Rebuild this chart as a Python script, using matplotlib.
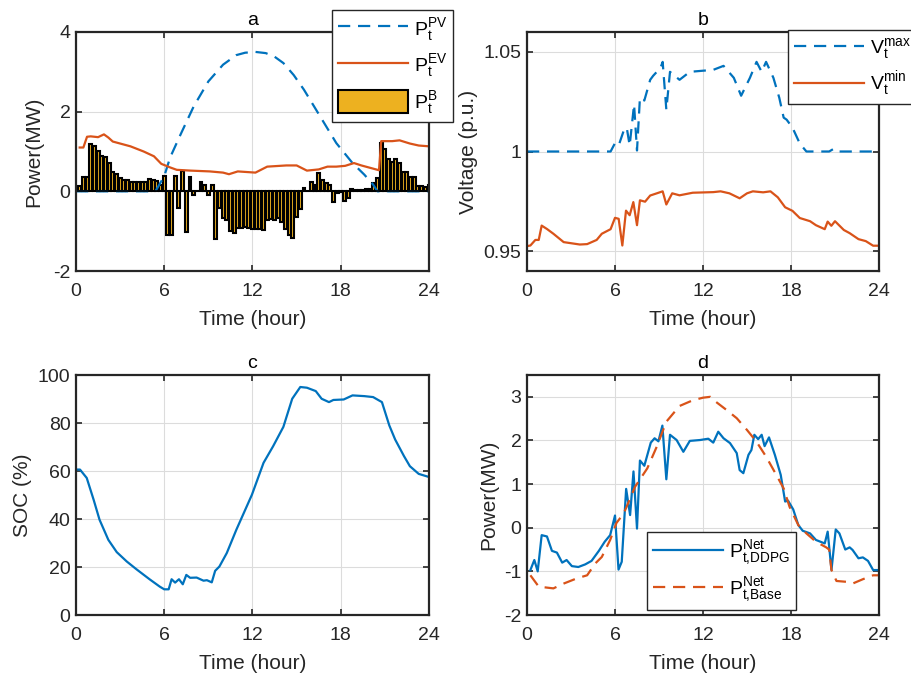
import numpy as np
import matplotlib
matplotlib.use('Agg')
import matplotlib.pyplot as plt

plt.rcParams['font.family'] = ['Liberation Sans', 'DejaVu Sans']
plt.rcParams['mathtext.fontset'] = 'custom'
plt.rcParams['mathtext.rm'] = 'Liberation Sans'
plt.rcParams['axes.unicode_minus'] = False

BLUE = '#0072BD'
ORANGE = '#D95319'
YELLOW = '#EDB120'

# ---- panel a: battery power per 15 min slot (t = 0.25 ... 24)
bat_t = np.arange(1, 97) * 0.25
bat_p = [0.13, 0.36, 0.36, 1.18, 1.13, 1.01, 0.88, 0.85, 0.70, 0.49, 0.44, 0.34,
         0.29, 0.28, 0.23, 0.23, 0.23, 0.23, 0.23, 0.30, 0.28, 0.27, 0.15, 0.38,
         -1.10, -1.10, 0.38, -0.41, 0.50, -1.03, 0.36, -0.08, 0.02, 0.23, 0.15, -0.08,
         0.15, -1.20, -0.41, -0.66, -0.73, -1.00, -1.05, -0.91, -0.91, -0.90, -0.92, -0.94,
         -0.94, -0.94, -0.96, -0.71, -0.70, -0.71, -0.66, -0.77, -0.94, -1.10, -1.16, -0.64,
         -0.44, 0.08, 0.02, 0.23, 0.17, 0.46, 0.29, 0.22, 0.17, -0.27, -0.03, -0.02,
         -0.25, -0.17, 0.06, 0.04, 0.04, 0.04, 0.07, 0.07, 0.21, 0.34, 1.22, 1.07,
         0.80, 0.74, 0.82, 0.71, 0.49, 0.49, 0.36, 0.36, 0.13, 0.13, 0.11, 0.15]

pv_t = [0, 5.4, 6.0, 6.4, 7.1, 8.0, 9.0, 10.0, 10.9, 11.5, 12.2, 12.9, 13.5, 14.1,
        14.8, 15.5, 16.6, 17.7, 18.8, 19.6, 20.2, 20.5, 24]
pv_p = [0, 0, 0.38, 0.85, 1.42, 2.13, 2.76, 3.18, 3.42, 3.48, 3.50, 3.47, 3.38, 3.22,
        2.92, 2.55, 1.88, 1.21, 0.71, 0.42, 0.17, 0, 0]

ev_t = [0.25, 0.5, 0.75, 1.0, 1.5, 1.9, 2.2, 2.5, 3.0, 3.7, 4.6, 5.3, 5.8, 6.4, 6.85,
        7.8, 9.1, 10.0, 10.4, 11.0, 12.2, 13.0, 14.3, 15.0, 15.7, 16.5, 17.1, 17.7,
        18.3, 18.9, 19.4, 20.3, 20.6, 20.75, 21.5, 22.0, 22.7, 23.3, 24]
ev_p = [1.1, 1.1, 1.37, 1.38, 1.36, 1.43, 1.35, 1.25, 1.2, 1.13, 1.0, 0.88, 0.69, 0.6,
        0.54, 0.52, 0.5, 0.47, 0.43, 0.5, 0.47, 0.62, 0.65, 0.65, 0.52, 0.55, 0.62, 0.62,
        0.64, 0.71, 0.65, 0.56, 0.53, 1.26, 1.26, 1.28, 1.2, 1.15, 1.13]

# ---- panel b: voltage
vmax_t = [0, 5.7, 6.0, 6.25, 6.6, 6.8, 7.0, 7.3, 7.5, 7.7, 8.0, 8.4, 8.6, 9.1, 9.25, 9.5,
          9.75, 10.4, 11.1, 12.7, 13.4, 14.1, 14.6, 15.2, 15.65, 16.0, 16.3, 16.8, 17.2,
          17.5, 17.7, 18.1, 18.6, 19.05, 20.6, 20.9, 21.1, 24]
vmax_v = [1.0, 1.0, 1.0042, 1.003, 1.0106, 1.012, 1.003, 1.0236, 1.0005, 1.027, 1.0256,
          1.036, 1.038, 1.042, 1.045, 1.021, 1.04, 1.036, 1.04, 1.041, 1.043, 1.037, 1.028,
          1.037, 1.045, 1.04, 1.045, 1.037, 1.027, 1.017, 1.016, 1.012, 1.004, 1.0, 1.0,
          1.0013, 1.0, 1.0]

vmin_t = [0.0, 0.23, 0.57, 0.8, 1.0, 1.36, 1.8, 2.5, 3.6, 4.1, 4.75, 5.1, 5.7, 6.0, 6.25,
          6.5, 6.75, 7.0, 7.25, 7.5, 7.7, 8.05, 8.4, 8.85, 9.25, 9.5, 9.9, 10.4, 11.3,
          12.7, 13.2, 13.8, 14.5, 15.0, 15.4, 16.1, 16.6, 17.1, 17.6, 18.1, 18.6, 19.3,
          19.7, 20.3, 20.5, 20.75, 21.0, 21.6, 22.0, 22.6, 23.1, 23.6, 24]
vmin_v = [0.9525, 0.9528, 0.9556, 0.9556, 0.9628, 0.9611, 0.9587, 0.9545, 0.9533, 0.9535,
          0.9556, 0.9587, 0.961, 0.9667, 0.9662, 0.9528, 0.9703, 0.968, 0.9746, 0.963,
          0.9755, 0.9748, 0.9779, 0.979, 0.98, 0.9734, 0.979, 0.978, 0.9793, 0.9796, 0.98,
          0.979, 0.9765, 0.979, 0.98, 0.9795, 0.98, 0.977, 0.972, 0.9702, 0.9666, 0.965,
          0.963, 0.961, 0.9648, 0.9627, 0.965, 0.9606, 0.959, 0.956, 0.955, 0.9527, 0.9527]

# ---- panel c: SOC
soc_t = [0, 0.27, 0.73, 1.2, 1.6, 2.2, 2.77, 3.45, 4.1, 5.0, 5.7, 6.0, 6.3, 6.5, 6.74,
         7.0, 7.26, 7.5, 7.76, 8.2, 8.67, 8.9, 9.23, 9.46, 9.75, 10.25, 10.9, 11.96,
         12.75, 13.4, 14.1, 14.7, 15.25, 15.7, 16.3, 16.7, 17.2, 17.5, 18.2, 18.8, 19.6,
         20.2, 20.8, 21.3, 21.7, 22.3, 22.7, 23.3, 24]
soc_v = [60.6, 60.6, 57.1, 48, 39.7, 31.3, 26.2, 22.3, 19.1, 14.9, 11.8, 10.7, 10.7, 14.9,
         13.5, 14.9, 12.8, 16.7, 15.5, 15.6, 14.3, 14.5, 13.6, 18.4, 20.2, 25.8, 35.5, 50.1,
         63.4, 70.3, 78.4, 90.1, 95, 94.7, 93.3, 90.1, 88.7, 89.6, 89.8, 91.5, 91.2, 90.8,
         88.7, 79, 73.1, 66.2, 62, 58.8, 57.5]

# ---- panel d: net power
ddpg_t = [0.23, 0.5, 0.73, 1.0, 1.36, 1.7, 2.04, 2.4, 2.7, 3.06, 3.5, 3.97, 4.4, 4.9, 5.3,
          5.67, 6.0, 6.24, 6.46, 6.76, 7.03, 7.26, 7.5, 7.7, 8.0, 8.44, 8.7, 8.96, 9.23, 9.5,
          9.75, 10.2, 10.66, 11.1, 11.8, 12.36, 12.7, 13.04, 13.4, 13.84, 14.3, 14.5, 14.75,
          15.1, 15.3, 15.5, 15.76, 16.0, 16.2, 16.5, 16.9, 17.3, 17.6, 17.8, 18.15, 18.5,
          18.8, 19.3, 19.7, 20.3, 20.5, 20.76, 21.05, 21.3, 21.7, 22.0, 22.2, 22.6, 22.9,
          23.25, 23.6, 24]
ddpg_p = [-0.97, -0.74, -1.0, -0.17, -0.2, -0.53, -0.57, -0.8, -0.74, -0.88, -0.9, -0.84,
          -0.76, -0.53, -0.32, -0.17, 0.28, -0.96, -0.78, 0.89, 0.29, 1.29, -0.02, 1.54,
          1.42, 1.95, 2.05, 1.98, 2.34, 1.11, 2.13, 2.01, 1.74, 1.99, 2.01, 2.04, 1.95, 2.2,
          2.05, 1.94, 1.71, 1.32, 1.25, 1.67, 1.78, 2.13, 2.03, 2.13, 1.87, 2.07, 1.67, 1.21,
          0.6, 0.62, 0.42, 0.06, -0.07, -0.13, -0.28, -0.36, -0.09, -0.97, -0.04, -0.13,
          -0.5, -0.45, -0.51, -0.7, -0.68, -0.76, -0.97, -0.97]

base_t = [0.23, 0.8, 1.8, 2.5, 3.4, 4.1, 4.65, 5.1, 5.67, 6.1, 6.6, 7.37, 8.2, 8.85, 9.5,
          10.4, 11.3, 12.0, 12.5, 12.9, 13.6, 14.3, 15.0, 15.65, 16.3, 17.0, 17.5, 17.9,
          18.5, 19.05, 19.7, 20.4, 20.6, 20.76, 21.1, 21.8, 22.2, 22.9, 23.6, 24]
base_p = [-1.09, -1.35, -1.39, -1.28, -1.16, -1.09, -0.82, -0.67, -0.28, 0.11, 0.33, 0.94,
          1.36, 1.86, 2.43, 2.79, 2.92, 2.98, 3.0, 2.88, 2.7, 2.51, 2.24, 1.97, 1.63, 1.21,
          0.9, 0.48, 0.06, -0.13, -0.32, -0.45, -0.5, -0.97, -1.22, -1.24, -1.28, -1.18,
          -1.09, -1.09]

xticks = [0, 6, 12, 18, 24]

fig = plt.figure(figsize=(9.12, 6.8), dpi=100)
W, H = 912, 680
LBL = 15
DASH = (5.5, 3.5)


def add_ax(l, t, r, b):
    ax = fig.add_axes([l / W, 1 - b / H, (r - l) / W, (b - t) / H])
    ax.set_xlim(0, 24)
    ax.set_xticks(xticks)
    ax.grid(True, color='#dcdcdc', linewidth=0.8)
    ax.set_axisbelow(True)
    ax.tick_params(direction='in', top=True, right=True, labelsize=14, length=4,
                   width=1.2, colors='#262626', labelcolor='#262626')
    ax.tick_params(axis='x', pad=9)
    ax.tick_params(axis='y', pad=4)
    for s in ax.spines.values():
        s.set_linewidth(1.6)
        s.set_color('#262626')
    ax.set_xlabel('Time (hour)', fontsize=LBL, labelpad=7, color='#262626')
    return ax


def leg(ax, **kw):
    lg = ax.legend(fancybox=False, framealpha=1, edgecolor='#262626',
                   bbox_transform=fig.transFigure, borderaxespad=0, fontsize=14,
                   handlelength=3.6, borderpad=0.3, handletextpad=0.3, **kw)
    lg.get_frame().set_linewidth(1.0)
    return lg


# a
ax = add_ax(76, 32, 429, 271)
ax.plot(pv_t, pv_p, '--', color=BLUE, lw=1.6, dashes=DASH, label=r'$\mathrm{P_t^{PV}}$')
ax.plot(ev_t, ev_p, '-', color=ORANGE, lw=1.6, label=r'$\mathrm{P_t^{EV}}$')
ax.bar(bat_t, bat_p, width=0.2, color=YELLOW, edgecolor='black', linewidth=1.5,
       label=r'$\mathrm{P_t^{B}}$')
ax.axhline(0, color='black', lw=1.2)
ax.set_ylim(-2, 4)
ax.set_yticks([-2, 0, 2, 4])
ax.set_ylabel('Power(MW)', fontsize=LBL, labelpad=7, color='#262626')
ax.set_title('a', fontsize=14, pad=5)
leg(ax, loc='upper left', bbox_to_anchor=(332 / W, 1 - 10 / H),
    handleheight=1.4, labelspacing=0.5)

# b
ax = add_ax(527, 32, 879, 271)
ax.plot(vmax_t, vmax_v, '--', color=BLUE, lw=1.6, dashes=DASH, label=r'$\mathrm{V_t^{max}}$')
ax.plot(vmin_t, vmin_v, '-', color=ORANGE, lw=1.6, label=r'$\mathrm{V_t^{min}}$')
ax.set_ylim(0.94, 1.06)
ax.set_yticks([0.95, 1.0, 1.05])
ax.set_yticklabels(['0.95', '1', '1.05'])
ax.set_ylabel('Voltage (p.u.)', fontsize=LBL, labelpad=4, color='#262626')
ax.set_title('b', fontsize=14, pad=5)
leg(ax, loc='upper left', bbox_to_anchor=(788 / W, 1 - 30 / H), labelspacing=0.45)

# c
ax = add_ax(76, 375, 429, 615)
ax.plot(soc_t, soc_v, '-', color=BLUE, lw=1.6)
ax.set_ylim(0, 100)
ax.set_yticks([0, 20, 40, 60, 80, 100])
ax.set_ylabel('SOC (%)', fontsize=LBL, labelpad=4, color='#262626')
ax.set_title('c', fontsize=14, pad=5)

# d
ax = add_ax(527, 375, 879, 615)
ax.plot(ddpg_t, ddpg_p, '-', color=BLUE, lw=1.6, label=r'$\mathrm{P_{t{,}DDPG}^{Net}}$')
ax.plot(base_t, base_p, '--', color=ORANGE, lw=1.6, dashes=DASH,
        label=r'$\mathrm{P_{t{,}Base}^{Net}}$')
ax.set_ylim(-2, 3.5)
ax.set_yticks([-2, -1, 0, 1, 2, 3])
ax.set_ylabel('Power(MW)', fontsize=LBL, labelpad=4, color='#262626')
ax.set_title('d', fontsize=14, pad=5)
leg(ax, loc='lower left', bbox_to_anchor=(647 / W, 1 - 610 / H), labelspacing=0.45)

fig.savefig('out.png', dpi=100)
